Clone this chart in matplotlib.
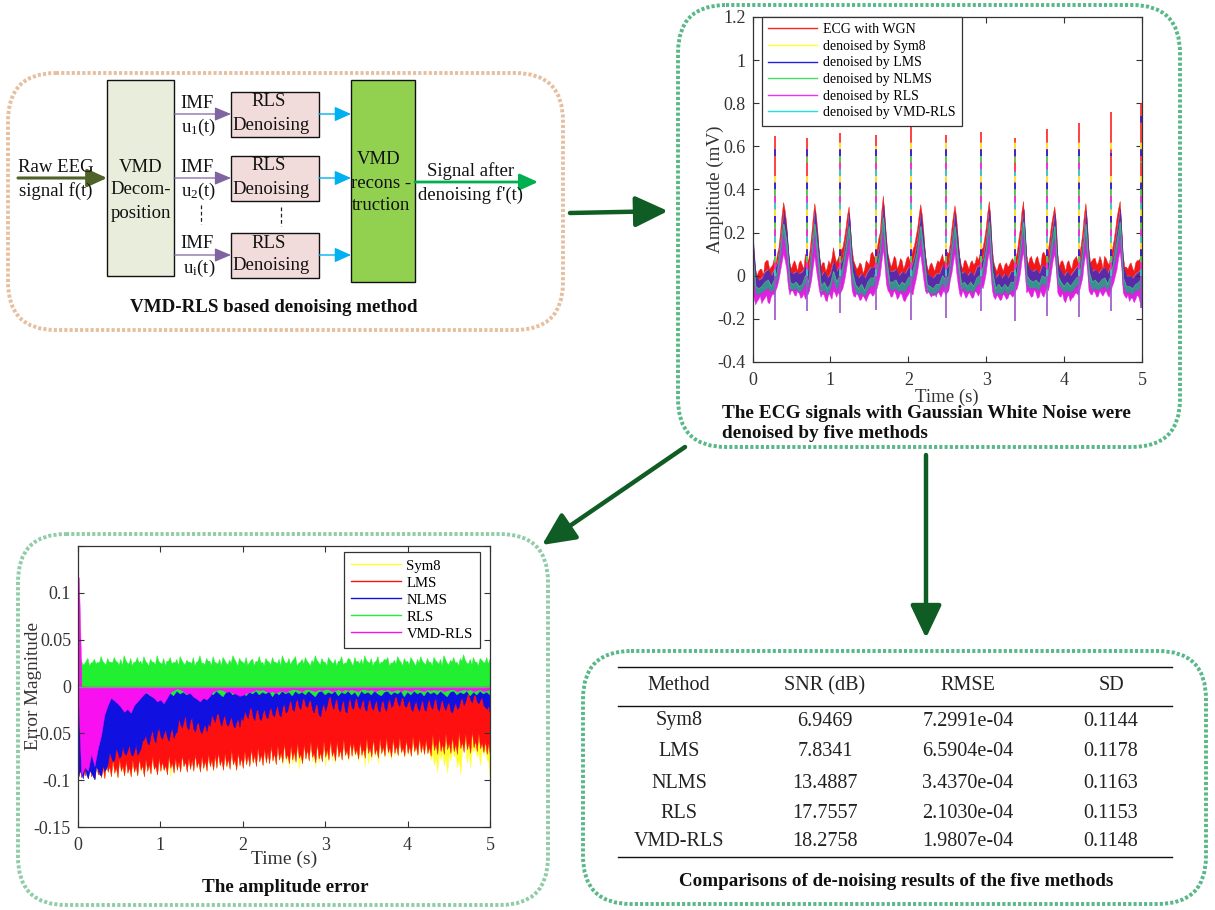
import numpy as np
import matplotlib
matplotlib.use("Agg")
import matplotlib.pyplot as plt
from matplotlib.lines import Line2D
from matplotlib.patches import FancyBboxPatch, Rectangle

plt.rcParams['font.family'] = ['Liberation Serif', 'DejaVu Serif']
plt.rcParams['mathtext.fontset'] = 'custom'
plt.rcParams['mathtext.rm'] = 'Liberation Serif'
plt.rcParams['mathtext.default'] = 'rm'

W, H = 1215, 910
TXT = '#222222'

# ECG panel on a 0.04 s grid (the *_mid lists sit half way between)
ecg_t = np.arange(126) * 0.04
ecg_red_top = [
    .28, .03, .02, .03, .06, .07, .04, .08, .10, .20,
    .34, .24, .06, .055, .05, .06, .05, .10, .07, .19,
    .335, .20, .04, .06, .035, .05, .13, .06, .10, .13,
    .22, .32, .12, .05, .04, .05, .03, .06, .10, .09,
    .12, .20, .37, .18, .07, .06, .08, .05, .07, .05,
    .09, .09, .14, .22, .33, .20, .05, .05, .04, .05,
    .06, .10, .08, .10, .22, .325, .18, .05, .07, .05,
    .06, .05, .09, .10, .13, .22, .345, .12, .035, .05,
    .04, .05, .04, .07, .06, .11, .22, .345, .10, .08,
    .065, .08, .06, .10, .09, .12, .24, .32, .10, .065,
    .05, .06, .045, .07, .09, .10, .20, .335, .12, .07,
    .08, .06, .07, .09, .06, .10, .16, .27, .345, .09,
    .04, .05, .035, .06, .07, .10]
ecg_red_mid = [
    .10, .00, .03, .00, .07, .03, .05, .05, .13, .28,
    .30, .12, .03, .07, .02, .07, .03, .08, .12, .27,
    .28, .10, .06, .02, .07, .08, .09, .08, .12, .17,
    .28, .22, .07, .03, .06, .01, .07, .05, .11, .08,
    .17, .30, .28, .10, .04, .09, .03, .08, .03, .08,
    .07, .12, .18, .28, .28, .10, .02, .06, .02, .07,
    .08, .06, .11, .15, .28, .27, .09, .03, .07, .03,
    .07, .06, .07, .12, .17, .29, .26, .06, .02, .06,
    .02, .06, .05, .08, .08, .17, .30, .20, .05, .09,
    .05, .09, .04, .11, .10, .18, .28, .25, .04, .07,
    .02, .07, .03, .08, .06, .14, .28, .25, .06, .08,
    .05, .09, .03, .08, .05, .12, .21, .31, .22, .04,
    .03, .06, .02, .07, .08]
ecg_blue_top = [
    .20, .00, -.02, -.01, .02, .03, .00, .03, .06, .16,
    .30, .20, .02, .01, .02, .01, .02, .05, .02, .14,
    .30, .15, .00, .02, -.01, .01, .07, .02, .05, .08,
    .17, .29, .07, .01, -.01, .01, -.01, .02, .04, .04,
    .08, .16, .33, .13, .02, .02, .03, .00, .02, .01,
    .04, .04, .09, .17, .29, .15, .01, .00, -.01, .01,
    .01, .05, .03, .05, .17, .29, .13, .01, .02, .00,
    .02, .00, .04, .05, .08, .17, .31, .07, -.01, .01,
    -.01, .01, -.01, .02, .02, .06, .17, .31, .06, .03,
    .02, .03, .01, .05, .04, .07, .19, .29, .05, .02,
    .00, .02, .00, .02, .04, .05, .15, .30, .07, .02,
    .03, .01, .03, .04, .01, .05, .11, .22, .31, .04,
    .00, .00, -.01, .01, .02, .04]
ecg_teal_top = [
    .12, -.05, -.06, -.05, -.03, -.02, -.05, -.02, .02, .12,
    .24, .15, -.03, -.04, -.03, -.05, -.04, .00, -.03, .09,
    .24, .10, -.05, -.03, -.06, -.04, .02, -.03, .00, .04,
    .12, .23, .02, -.04, -.06, -.04, -.07, -.03, -.01, -.01,
    .04, .11, .27, .08, -.03, -.03, -.02, -.05, -.03, -.04,
    -.01, .00, .05, .12, .23, .10, -.04, -.05, -.06, -.04,
    -.04, .00, -.02, .00, .12, .23, .08, -.04, -.03, -.05,
    -.03, -.05, -.01, .00, .04, .12, .25, .02, -.06, -.04,
    -.06, -.04, -.06, -.03, -.03, .02, .12, .25, .00, -.02,
    -.03, -.02, -.04, .00, -.01, .02, .14, .23, .00, -.03,
    -.05, -.03, -.05, -.03, -.01, .00, .10, .24, .02, -.03,
    -.02, -.04, -.02, -.01, -.04, .00, .07, .16, .25, -.01,
    -.05, -.05, -.06, -.04, -.03, -.01]
ecg_magenta_top = [
    .05, -.08, -.09, -.08, -.07, -.06, -.08, -.06, -.02, .07,
    .19, .10, -.06, -.07, -.06, -.08, -.07, -.04, -.07, .05,
    .18, .05, -.08, -.07, -.09, -.07, -.02, -.07, -.04, .00,
    .07, .17, -.03, -.07, -.09, -.08, -.10, -.07, -.05, -.05,
    .00, .06, .20, .03, -.06, -.07, -.06, -.08, -.07, -.08,
    -.05, -.04, .00, .07, .17, .05, -.07, -.08, -.09, -.08,
    -.07, -.04, -.06, -.04, .07, .17, .03, -.07, -.06, -.08,
    -.07, -.08, -.05, -.04, .00, .07, .19, -.03, -.09, -.08,
    -.09, -.07, -.09, -.07, -.07, -.02, .07, .19, -.04, -.06,
    -.06, -.06, -.07, -.04, -.05, -.02, .09, .17, -.04, -.06,
    -.08, -.07, -.08, -.07, -.05, -.04, .05, .18, -.03, -.07,
    -.06, -.07, -.06, -.05, -.07, -.04, .03, .10, .19, -.05,
    -.08, -.08, -.09, -.07, -.07, -.05]
ecg_magenta_low = [
    -.12, -.135, -.11, -.13, -.105, -.125, -.10, -.09, -.05, .02,
    .10, .03, -.09, -.07, -.095, -.08, -.10, -.11, -.085, -.02,
    .09, -.02, -.10, -.09, -.12, -.095, -.07, -.10, -.09, -.06,
    .01, .10, -.07, -.10, -.095, -.11, -.105, -.10, -.08, -.09,
    -.06, .00, .12, -.04, -.08, -.095, -.085, -.10, -.09, -.12,
    -.09, -.08, -.05, .02, .10, -.02, -.085, -.09, -.08, -.10,
    -.085, -.08, -.09, -.07, .01, .10, -.04, -.10, -.085, -.095,
    -.09, -.10, -.08, -.08, -.06, .01, .11, -.07, -.11, -.10,
    -.11, -.095, -.105, -.09, -.09, -.06, .01, .11, -.08, -.085,
    -.095, -.08, -.10, -.09, -.08, -.07, .02, .10, -.08, -.10,
    -.115, -.10, -.12, -.10, -.08, -.07, -.01, .10, -.07, -.09,
    -.08, -.095, -.085, -.08, -.09, -.07, -.03, .03, .11, -.08,
    -.105, -.12, -.105, -.11, -.10, -.15]
ecg_magenta_low_mid = [
    -.10, -.12, -.095, -.115, -.09, -.13, -.085, -.07, -.02, .06,
    .07, -.05, -.07, -.09, -.07, -.105, -.085, -.09, -.055, .04,
    .03, -.07, -.085, -.115, -.08, -.11, -.08, -.08, -.075, -.03,
    .06, .02, -.095, -.08, -.115, -.09, -.12, -.085, -.095, -.07,
    -.03, .06, .05, -.07, -.10, -.07, -.11, -.08, -.115, -.10,
    -.075, -.09, -.02, .07, .04, -.07, -.07, -.10, -.085, -.07,
    -.10, -.07, -.08, -.02, .06, .02, -.085, -.07, -.105, -.075,
    -.105, -.07, -.095, -.05, -.03, .07, .02, -.10, -.09, -.115,
    -.085, -.11, -.08, -.10, -.07, -.03, .07, .02, -.07, -.10,
    -.065, -.105, -.07, -.10, -.05, -.03, .07, .03, -.095, -.08,
    -.125, -.09, -.105, -.085, -.09, -.04, .06, .03, -.085, -.07,
    -.10, -.07, -.095, -.07, -.10, -.05, .00, .08, .04, -.095,
    -.09, -.105, -.125, -.09, -.13]

# R spikes and S dips of each beat
r_times = [.285, .70, 1.125, 1.585, 2.03, 2.49, 2.93, 3.375, 3.78, 4.195, 4.605, 4.99]
r_peak_red = [.65, .64, .66, .655, .715, .655, .665, .64, .68, .71, .76, .80]
r_peak_sym8 = [.55, .57, .63, .60, .66, .63, .62, .63, .62, .64, .70, .72]
r_peak_lms = [.59, .60, .65, .64, .69, .64, .65, .59, .66, .69, .57, .76]
r_peak_nlms = [.47, .55, .56, .59, .62, .59, .60, .55, .60, .63, .50, .53]
r_peak_rls = [.42, .50, .52, .52, .58, .54, .55, .50, .55, .58, .45, .46]
r_peak_vmd = [.44, .45, .53, .50, .56, .52, .54, .48, .52, .56, .40, .44]
s_dip = [-.205, -.165, -.175, -.16, -.205, -.195, -.165, -.21, -.185, -.19, -.165, -.15]

ecg_names = ['ECG with WGN', 'denoised by Sym8', 'denoised by LMS',
             'denoised by NLMS', 'denoised by RLS', 'denoised by VMD-RLS']
ecg_colors = ['#ff2020', '#ffff30', '#2020e0', '#40e060', '#f030f0', '#20e0e0']

# Error panel on a 0.04 s grid (the *_mid lists sit half way between)
err_t = np.arange(126) * 0.04
err_green_top = [
    .000, .028, .024, .030, .025, .029, .026, .032, .025, .030,
    .026, .031, .026, .029, .033, .025, .030, .026, .031, .027,
    .032, .025, .029, .026, .033, .025, .030, .027, .031, .026,
    .029, .032, .025, .028, .026, .031, .026, .033, .025, .030,
    .027, .032, .025, .029, .031, .025, .028, .033, .026, .030,
    .026, .031, .025, .029, .027, .032, .026, .030, .026, .031,
    .026, .029, .033, .025, .030, .027, .032, .025, .029, .031,
    .025, .028, .033, .026, .030, .026, .031, .026, .029, .027,
    .032, .025, .030, .025, .031, .027, .029, .033, .026, .030,
    .026, .032, .026, .029, .031, .025, .028, .032, .026, .030,
    .027, .031, .025, .029, .032, .025, .030, .026, .031, .026,
    .029, .033, .025, .028, .031, .026, .030, .034, .025, .029,
    .031, .026, .030, .026, .031, .029]
err_green_top_mid = [
    .018, .023, .027, .022, .026, .024, .025, .027, .023, .026,
    .025, .027, .023, .022, .028, .024, .022, .026, .025, .023,
    .027, .022, .026, .023, .027, .024, .022, .027, .024, .025,
    .022, .028, .023, .026, .024, .022, .027, .025, .023, .027,
    .022, .026, .024, .022, .028, .023, .025, .029, .022, .027,
    .024, .023, .028, .022, .026, .025, .022, .027, .023, .026,
    .024, .022, .028, .025, .023, .029, .022, .026, .024, .027,
    .022, .025, .028, .023, .026, .022, .028, .024, .022, .027,
    .023, .025, .029, .022, .026, .024, .023, .028, .025, .022,
    .027, .023, .026, .028, .022, .025, .024, .028, .022, .026,
    .023, .028, .022, .025, .027, .023, .026, .022, .028, .024,
    .022, .029, .023, .026, .025, .022, .027, .028, .024, .023,
    .026, .022, .028, .025, .024]
err_green_low = [
    -.002, -.006, -.007, -.009, -.006, -.010, -.007, -.006, -.009, -.005,
    -.010, -.007, -.005, -.009, -.006, -.008, -.005, -.010, -.006, -.008,
    -.005, -.007, -.010, -.006, -.008, -.005, -.009, -.006, -.007, -.010,
    -.005, -.008, -.006, -.009, -.005, -.007, -.006, -.010, -.005, -.008,
    -.006, -.009, -.005, -.008, -.011, -.006, -.005, -.009, -.006, -.008,
    -.005, -.010, -.006, -.008, -.005, -.009, -.006, -.008, -.005, -.011,
    -.006, -.009, -.005, -.008, -.006, -.010, -.005, -.008, -.006, -.009,
    -.005, -.008, -.011, -.006, -.005, -.009, -.006, -.008, -.005, -.010,
    -.006, -.008, -.005, -.009, -.006, -.011, -.005, -.008, -.006, -.009,
    -.005, -.008, -.010, -.006, -.005, -.009, -.006, -.008, -.005, -.011,
    -.006, -.009, -.005, -.008, -.006, -.010, -.005, -.008, -.006, -.009,
    -.005, -.008, -.011, -.006, -.005, -.009, -.006, -.008, -.005, -.010,
    -.006, -.009, -.005, -.008, -.006, -.009]
err_magenta_low = [
    -.005, -.095, -.086, -.090, -.072, -.085, -.066, -.052, -.030, -.020,
    -.012, -.015, -.018, -.022, -.027, -.024, -.028, -.020, -.016, -.012,
    -.008, -.006, -.010, -.012, -.016, -.014, -.018, -.012, -.006, -.004,
    -.002, -.003, -.005, -.008, -.007, -.011, -.013, -.016, -.012, -.014,
    -.010, -.005, -.004, -.003, -.004, -.006, -.005, -.007, -.008, -.010,
    -.009, -.007, -.006, -.005, -.003, -.004, -.003, -.005, -.006, -.005,
    -.007, -.005, -.004, -.006, -.004, -.003, -.003, -.004, -.005, -.003,
    -.003, -.004, -.005, -.003, -.004, -.003, -.003, -.005, -.004, -.003,
    -.005, -.003, -.004, -.003, -.004, -.005, -.003, -.003, -.004, -.003,
    -.005, -.004, -.003, -.004, -.003, -.005, -.004, -.003, -.005, -.003,
    -.004, -.005, -.003, -.003, -.004, -.005, -.003, -.004, -.003, -.004,
    -.003, -.005, -.004, -.003, -.003, -.005, -.004, -.003, -.004, -.003,
    -.005, -.004, -.003, -.005, -.004, -.003]
err_blue_low = [
    -.098, -.094, -.085, -.098, -.092, -.099, -.088, -.095, -.090, -.082,
    -.075, -.078, -.070, -.074, -.071, -.068, -.072, -.069, -.073, -.066,
    -.056, -.060, -.052, -.056, -.048, -.053, -.050, -.054, -.049, -.055,
    -.048, -.040, -.037, -.043, -.036, -.045, -.040, -.047, -.044, -.048,
    -.042, -.034, -.030, -.037, -.034, -.040, -.036, -.041, -.038, -.043,
    -.036, -.030, -.024, -.032, -.026, -.034, -.028, -.032, -.025, -.030,
    -.024, -.030, -.022, -.028, -.018, -.024, -.016, -.022, -.014, -.020,
    -.016, -.024, -.020, -.030, -.022, -.026, -.012, -.020, -.015, -.024,
    -.018, -.026, -.016, -.022, -.014, -.021, -.017, -.024, -.016, -.022,
    -.018, -.025, -.017, -.023, -.016, -.022, -.012, -.018, -.013, -.020,
    -.017, -.024, -.019, -.023, -.018, -.024, -.017, -.021, -.015, -.023,
    -.017, -.022, -.019, -.026, -.021, -.024, -.014, -.020, -.009, -.014,
    -.010, -.016, -.014, -.020, -.024, -.030]
err_blue_mid = [
    -.090, -.098, -.094, -.090, -.096, -.086, -.094, -.084, -.088, -.070,
    -.080, -.066, -.076, -.064, -.073, -.062, -.074, -.062, -.070, -.058,
    -.052, -.062, -.046, -.060, -.044, -.056, -.046, -.058, -.044, -.050,
    -.034, -.044, -.030, -.046, -.033, -.048, -.038, -.050, -.040, -.039,
    -.030, -.038, -.028, -.042, -.030, -.042, -.032, -.044, -.034, -.032,
    -.026, -.034, -.022, -.036, -.024, -.036, -.024, -.034, -.022, -.032,
    -.020, -.032, -.018, -.026, -.014, -.026, -.013, -.024, -.012, -.022,
    -.014, -.028, -.018, -.032, -.018, -.020, -.010, -.024, -.013, -.027,
    -.014, -.028, -.012, -.024, -.012, -.024, -.013, -.026, -.013, -.025,
    -.014, -.027, -.014, -.026, -.013, -.020, -.010, -.021, -.011, -.022,
    -.014, -.026, -.015, -.026, -.014, -.026, -.013, -.024, -.012, -.026,
    -.014, -.025, -.016, -.028, -.017, -.022, -.012, -.016, -.007, -.017,
    -.008, -.018, -.011, -.022, -.020]
err_red_low = [
    -.100, -.097, -.095, -.098, -.096, -.099, -.094, -.097, -.098, -.091,
    -.096, -.092, -.097, -.090, -.095, -.092, -.096, -.091, -.095, -.089,
    -.096, -.090, -.093, -.088, -.094, -.090, -.089, -.094, -.087, -.092,
    -.089, -.091, -.085, -.091, -.088, -.090, -.086, -.091, -.087, -.090,
    -.085, -.089, -.087, -.084, -.089, -.085, -.088, -.083, -.089, -.084,
    -.087, -.083, -.085, -.081, -.085, -.080, -.084, -.081, -.082, -.079,
    -.083, -.078, -.081, -.077, -.082, -.078, -.080, -.076, -.082, -.077,
    -.079, -.075, -.081, -.077, -.080, -.075, -.078, -.074, -.079, -.075,
    -.078, -.073, -.077, -.074, -.072, -.077, -.073, -.076, -.071, -.075,
    -.072, -.076, -.071, -.074, -.070, -.075, -.071, -.073, -.070, -.074,
    -.071, -.074, -.069, -.073, -.070, -.072, -.071, -.074, -.068, -.072,
    -.069, -.072, -.067, -.071, -.069, -.072, -.066, -.070, -.067, -.071,
    -.065, -.069, -.066, -.070, -.072, -.075]
err_red_mid = [
    -.085, -.083, -.088, -.082, -.087, -.080, -.088, -.086, -.080, -.085,
    -.078, -.086, -.077, -.085, -.079, -.086, -.078, -.085, -.076, -.084,
    -.077, -.083, -.074, -.085, -.076, -.080, -.084, -.074, -.081, -.076,
    -.080, -.073, -.080, -.076, -.078, -.072, -.080, -.074, -.079, -.072,
    -.078, -.073, -.070, -.078, -.071, -.077, -.068, -.078, -.070, -.076,
    -.069, -.073, -.066, -.073, -.065, -.072, -.066, -.070, -.063, -.071,
    -.063, -.070, -.060, -.072, -.063, -.069, -.060, -.072, -.061, -.067,
    -.058, -.071, -.060, -.070, -.058, -.067, -.057, -.069, -.058, -.067,
    -.056, -.068, -.058, -.060, -.067, -.058, -.066, -.055, -.065, -.055,
    -.066, -.055, -.064, -.054, -.065, -.055, -.063, -.054, -.065, -.056,
    -.063, -.053, -.063, -.054, -.061, -.056, -.064, -.051, -.061, -.053,
    -.061, -.050, -.060, -.053, -.061, -.049, -.059, -.050, -.060, -.047,
    -.058, -.050, -.060, -.058, -.060]
err_yellow_low = [
    -.100, -.097, -.095, -.098, -.096, -.099, -.094, -.097, -.098, -.092,
    -.096, -.093, -.097, -.091, -.095, -.093, -.096, -.092, -.095, -.090,
    -.096, -.091, -.094, -.089, -.094, -.091, -.090, -.094, -.096, -.092,
    -.090, -.091, -.086, -.091, -.088, -.090, -.087, -.091, -.088, -.090,
    -.086, -.089, -.087, -.085, -.089, -.086, -.088, -.084, -.089, -.085,
    -.087, -.084, -.085, -.082, -.085, -.081, -.084, -.082, -.082, -.080,
    -.083, -.079, -.084, -.080, -.086, -.082, -.082, -.088, -.082, -.078,
    -.079, -.080, -.086, -.081, -.080, -.085, -.080, -.079, -.082, -.076,
    -.079, -.075, -.079, -.076, -.074, -.080, -.076, -.085, -.082, -.079,
    -.074, -.082, -.072, -.076, -.074, -.078, -.073, -.075, -.071, -.076,
    -.073, -.075, -.071, -.074, -.072, -.073, -.072, -.078, -.084, -.091,
    -.078, -.084, -.092, -.079, -.075, -.086, -.093, -.060, -.081, -.086,
    -.069, -.075, -.084, -.073, -.078, -.100]
err_yellow_mid = [
    -.085, -.083, -.088, -.082, -.087, -.080, -.088, -.086, -.080, -.085,
    -.078, -.086, -.077, -.085, -.079, -.086, -.078, -.085, -.076, -.084,
    -.077, -.083, -.074, -.085, -.076, -.080, -.084, -.074, -.081, -.076,
    -.080, -.073, -.080, -.076, -.078, -.072, -.080, -.074, -.079, -.072,
    -.078, -.073, -.070, -.078, -.071, -.077, -.068, -.078, -.070, -.076,
    -.069, -.073, -.066, -.073, -.065, -.072, -.066, -.070, -.063, -.071,
    -.063, -.072, -.062, -.074, -.064, -.075, -.064, -.076, -.064, -.068,
    -.060, -.073, -.062, -.072, -.060, -.070, -.059, -.070, -.060, -.068,
    -.058, -.069, -.060, -.062, -.068, -.060, -.068, -.058, -.068, -.058,
    -.068, -.058, -.066, -.056, -.067, -.057, -.065, -.056, -.066, -.058,
    -.065, -.056, -.065, -.056, -.063, -.058, -.068, -.072, -.075, -.070,
    -.070, -.075, -.072, -.066, -.072, -.078, -.068, -.062, -.070, -.066,
    -.066, -.070, -.065, -.066, -.080]
err_magenta_spike_t = [0.0, 0.01, 0.02, 0.03, 0.04]
err_magenta_spike = [.118, .116, .085, .050, .015]

err_names = ['Sym8', 'LMS', 'NLMS', 'RLS', 'VMD-RLS']
err_colors = ['#ffff30', '#ff1010', '#1010e0', '#20f030', '#f810f0']

# Table
table_header = ['Method', 'SNR (dB)', 'RMSE', 'SD']
table_method = ['Sym8', 'LMS', 'NLMS', 'RLS', 'VMD-RLS']
table_snr = ['6.9469', '7.8341', '13.4887', '17.7557', '18.2758']
table_rmse = ['7.2991e-04', '6.5904e-04', '3.4370e-04', '2.1030e-04', '1.9807e-04']
table_sd = ['0.1144', '0.1178', '0.1163', '0.1153', '0.1148']


def axes_px(fig, x0, y0, x1, y1):
    return fig.add_axes([x0 / W, 1 - y1 / H, (x1 - x0) / W, (y1 - y0) / H])


def style_axes(ax, yticks, ylabels):
    ax.set_xlim(0, 5)
    ax.set_xticks([0, 1, 2, 3, 4, 5])
    ax.set_yticks(yticks)
    ax.set_yticklabels(ylabels)
    ax.tick_params(direction='in', top=True, right=True, length=4, width=.8,
                   labelsize=13, colors='#333333')
    ax.tick_params(axis='x', pad=7)
    ax.tick_params(axis='y', pad=5)
    for s in ax.spines.values():
        s.set_linewidth(.9)
        s.set_color('#333333')


def fine(t, coarse, mid):
    # merge a grid list with its half-way list
    x = np.empty(len(coarse) + len(mid))
    y = np.empty(len(coarse) + len(mid))
    x[0::2] = t
    x[1::2] = t[:-1] + 0.02
    y[0::2] = coarse
    y[1::2] = mid
    return x, y


def band(ax, xa, ya, xb, yb, color):
    ax.fill(np.r_[xa, xb[::-1]], np.r_[ya, yb[::-1]], color=color, lw=.3)


fig = plt.figure(figsize=(W / 100, H / 100), dpi=100)

# overlay in pixel coordinates for the flow diagram, panels, arrows, table
bg = fig.add_axes([0, 0, 1, 1], zorder=0)
bg.set_xlim(0, W)
bg.set_ylim(H, 0)
bg.axis('off')


def panel(x0, y0, x1, y1, color, r=48):
    bg.add_patch(FancyBboxPatch((x0 + r, y0 + r), x1 - x0 - 2 * r, y1 - y0 - 2 * r,
                                boxstyle='round,pad=%d,rounding_size=%d' % (r, r),
                                fc='none', ec=color, lw=2.8, ls=(0, (.8, .55))))


panel(8, 73, 563, 330, '#e6bf9f')
panel(678, 5, 1180, 447, '#58b888')
panel(18, 534, 548, 905, '#90cca8')
panel(583, 651, 1206, 904, '#58b888')


def block(x0, y0, x1, y1, color):
    bg.add_patch(Rectangle((x0, y0), x1 - x0, y1 - y0, fc=color, ec='#111111', lw=1))


def arrow(x0, y0, x1, y1, color, lw, head_w, head_l):
    bg.annotate('', xy=(x1, y1), xytext=(x0, y0),
                arrowprops=dict(arrowstyle='-|>,head_width=%.2f,head_length=%.2f' % (head_w, head_l),
                                color=color, lw=lw, shrinkA=0, shrinkB=0))


def label(x, y, s, size=13.5, weight='normal', ha='center'):
    bg.text(x, y, s, fontsize=size, fontweight=weight, ha=ha, va='center', color='#111111')


block(107, 80, 174, 276, '#e9eedc')
block(351, 80, 415, 282, '#92d050')
arrow(18, 178, 107, 178, '#4f6228', 2.2, .55, 1.2)
arrow(415, 182, 538, 182, '#00b050', 2.0, .5, 1.1)

for y, sub in zip([114, 178, 255], ['1', '2', 'i']):
    block(231, y - 22, 319, y + 23, '#f2dcdb')
    arrow(174, y, 231, y, '#8064a2', .9, .42, 1.0)
    arrow(319, y, 351, y, '#00b0f0', 1.0, .45, 1.0)
    label(197, y - 11, 'IMF', 13.5)
    label(199, y + 13, 'u$_{%s}$(t)' % sub, 13.5)
    label(269, y - 12, 'RLS', 13.5)
    label(271, y + 11, 'Denoising', 13.5)

bg.plot([201, 201], [205, 224], color='#222222', lw=.9, ls=(0, (3, 2)))
bg.plot([281, 281], [207, 226], color='#222222', lw=.9, ls=(0, (3, 2)))

label(56, 168, 'Raw EEG')
label(56, 191, 'signal f(t)')
label(141, 167, 'VMD')
label(141, 190, 'Decom-')
label(141, 213, 'position')
label(379, 160, 'VMD')
label(381, 183, 'recons -')
label(381, 205, 'truction')
label(471, 171, 'Signal after')
label(471, 195, "denoising f'(t)")
label(274, 308, 'VMD-RLS based denoising method', 13.7, 'bold')

label(722, 413, 'The ECG signals with Gaussian White Noise were', 13.85, 'bold', 'left')
label(722, 434, 'denoised by five methods', 13.85, 'bold', 'left')
label(285, 887, 'The amplitude error', 13.7, 'bold')
label(896, 882, 'Comparisons of de-noising results of the five methods', 13.7, 'bold')

# flow arrows between the panels
arrow(570, 213, 668, 211, '#0f5c24', 3.2, .95, 2.0)
arrow(685, 447, 542, 545, '#0f5c24', 3.2, .95, 2.0)
arrow(926, 455, 926, 638, '#0f5c24', 3.2, .95, 2.0)

# ECG panel
ax1 = axes_px(fig, 752.5, 17, 1142, 362)
ax1.set_zorder(1)
xr, yr = fine(ecg_t, ecg_red_top, ecg_red_mid)
xm, ym = fine(ecg_t, ecg_magenta_low, ecg_magenta_low_mid)
band(ax1, xr, yr, ecg_t, np.array(ecg_blue_top), '#f01818')
ax1.fill_between(ecg_t, ecg_blue_top, ecg_teal_top, color='#5a2aa8', lw=.4)
ax1.fill_between(ecg_t, ecg_teal_top, ecg_magenta_top, color='#3a8f90', lw=.4)
band(ax1, ecg_t, np.array(ecg_magenta_top), xm, ym, '#e020e0')
ax1.plot(ecg_t, ecg_teal_top, color='#40c080', lw=.5)
ax1.plot(ecg_t, ecg_magenta_top, color='#a040c0', lw=.5)

ax1.vlines(r_times, s_dip, [0] * len(r_times), color='#9a55c8', lw=1.2)
r_peaks = [r_peak_red, r_peak_sym8, r_peak_lms, r_peak_nlms, r_peak_rls, r_peak_vmd]
for i, (peaks, col) in enumerate(zip(r_peaks, ecg_colors)):
    ls = '-' if i == 0 else (i * 4, (4, 16))
    ax1.vlines(r_times, [0] * len(r_times), peaks, color=col, lw=1.2, linestyles=[ls])
ax1.plot([.005, .005], [-.12, .28], color='#40d0a0', lw=1.2)

ax1.set_ylim(-.4, 1.2)
style_axes(ax1, [-.4, -.2, 0, .2, .4, .6, .8, 1, 1.2],
           ['-0.4', '-0.2', '0', '0.2', '0.4', '0.6', '0.8', '1', '1.2'])
ax1.set_xlabel('Time (s)', fontsize=13.5, color='#333333', labelpad=0)
ax1.set_ylabel('Amplitude (mV)', fontsize=13.8, color='#333333', labelpad=-5)
h1 = [Line2D([], [], color=c, lw=1) for c in ecg_colors]
leg1 = ax1.legend(h1, ecg_names, loc='upper left', bbox_to_anchor=(.0244, 1.0), borderaxespad=0,
                  fontsize=10, fancybox=False, framealpha=1, edgecolor='#333333',
                  handlelength=3.5, labelspacing=.26, handletextpad=.42, borderpad=.45)
leg1.get_frame().set_linewidth(.9)

# Error panel
ax2 = axes_px(fig, 78, 546, 490, 827)
ax2.set_zorder(1)
xy, yy = fine(err_t, err_yellow_low, err_yellow_mid)
xd, yd = fine(err_t, err_red_low, err_red_mid)
xb, yb = fine(err_t, err_blue_low, err_blue_mid)
xg, yg = fine(err_t, err_green_top, err_green_top_mid)
ax2.fill_between(xy, yy, 0, color=err_colors[0], lw=.3)
ax2.fill_between(xd, yd, 0, color=err_colors[1], lw=.3)
ax2.fill_between(xb, yb, 0, color=err_colors[2], lw=.3)
band(ax2, xg, yg, err_t, np.array(err_green_low), err_colors[3])
ax2.fill_between(err_t, err_magenta_low, 0, color=err_colors[4], lw=.3)
ax2.fill_between(err_magenta_spike_t, 0, err_magenta_spike, color=err_colors[4], lw=.3)
ax2.axhline(-.0005, color='#909090', lw=1)
ax2.set_ylim(-.15, .15)
style_axes(ax2, [-.15, -.1, -.05, 0, .05, .1, .15],
           ['-0.15', '-0.1', '-0.05', '0', '0.05', '0.1', ''])
ax2.set_xlabel('Time (s)', fontsize=14, color='#333333', labelpad=-2)
ax2.set_ylabel('Error Magnitude', fontsize=13.8, color='#333333', labelpad=-6)
h2 = [Line2D([], [], color=c, lw=1) for c in err_colors]
leg2 = ax2.legend(h2, err_names, loc='upper right', bbox_to_anchor=(.976, .979), borderaxespad=0,
                  fontsize=10.6, fancybox=False, framealpha=1, edgecolor='#333333',
                  handlelength=3.4, labelspacing=.25, handletextpad=.35, borderpad=.5)
leg2.get_frame().set_linewidth(.9)

# Table
for y in [667, 706, 857]:
    bg.plot([618, 1172], [y, y], color='#111111', lw=1)
col_x = [679, 825, 968, 1111]
for x, s in zip(col_x, table_header):
    bg.text(x, 686, s, fontsize=14.5, ha='center', va='center', color=TXT)
row_y = [721, 752, 783, 813, 842]
for col, x in zip([table_method, table_snr, table_rmse, table_sd], col_x):
    for y, s in zip(row_y, col):
        bg.text(x, y, s, fontsize=14.5, ha='center', va='center', color=TXT)

fig.savefig('out.png', dpi=100)
